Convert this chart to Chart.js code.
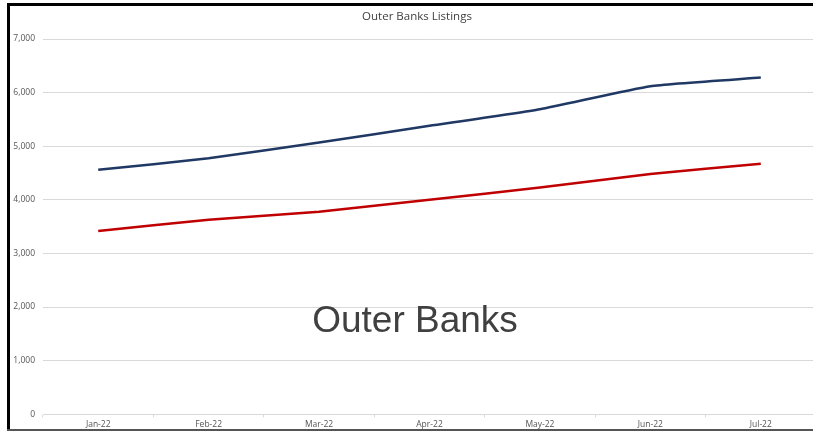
<!DOCTYPE html>
<html>
<head>
<meta charset="utf-8">
<script src="https://cdn.jsdelivr.net/npm/chart.js@4"></script>
<style>
  html, body { margin: 0; padding: 0; background: #fff; overflow: hidden; }
  #wrap { position: relative; width: 817px; height: 433px; }
  #chart { position: absolute; left: 0; top: 0; }
  .title { position: absolute; left: 317px; width: 200px; top: 8px; text-align: center;
           font: 11.5px "Open Sans", sans-serif; color: #404040; white-space: nowrap; }
  .big { position: absolute; left: 265px; width: 300px; top: 302px; text-align: center;
         font: 37px/36px "Liberation Sans", Arial, sans-serif; color: #404040; white-space: nowrap; }
  .bTop { position: absolute; left: 7px; top: 3px; width: 810px; height: 3px; background: #000; }
  .bLeft { position: absolute; left: 7px; top: 3px; width: 3px; height: 428px; background: #000; }
  .bBot { position: absolute; left: 7px; top: 429px; width: 810px; height: 2px; background: #555; }
</style>
</head>
<body>
<div id="wrap">
  <canvas id="chart" width="817" height="433"></canvas>
  <div class="title">Outer Banks Listings</div>
  <div class="big">Outer Banks</div>
  <div class="bTop"></div>
  <div class="bLeft"></div>
  <div class="bBot"></div>
</div>
<script>
const months = ['Jan-22', 'Feb-22', 'Mar-22', 'Apr-22', 'May-22', 'Jun-22', 'Jul-22'];
const blueSeries = [4560, 4775, 5070, 5380, 5690, 6120, 6280];
const redSeries = [3420, 3630, 3780, 4000, 4230, 4480, 4675];

const ctx = document.getElementById('chart').getContext('2d');
new Chart(ctx, {
  type: 'line',
  data: {
    labels: months,
    datasets: [{
      label: 'Listings A',
      data: blueSeries,
      borderColor: '#203864',
      borderWidth: 2.5,
      pointRadius: 0,
      tension: 0.15
    }, {
      label: 'Listings B',
      data: redSeries,
      borderColor: '#c00000',
      borderWidth: 2.5,
      pointRadius: 0,
      tension: 0.15
    }]
  },
  options: {
    responsive: false,
    animation: false,
    layout: { padding: { top: 39, right: 1, bottom: 0, left: 0 } },
    plugins: {
      legend: { display: false },
      title: { display: false },
      tooltip: { enabled: false }
    },
    scales: {
      x: {
        offset: true,
        grid: { offset: true, drawOnChartArea: false, color: '#d9d9d9', tickLength: 3 },
        border: { color: '#d9d9d9' },
        ticks: { font: { family: 'Open Sans', size: 8.5 }, color: '#555555', padding: 2, maxRotation: 0 },
        afterFit: s => { s.height = 18.7; }
      },
      y: {
        min: 0,
        max: 7000,
        ticks: { stepSize: 1000, font: { family: 'Open Sans', size: 8.5 }, color: '#555555', padding: 8 },
        grid: { color: '#d9d9d9', drawTicks: false },
        border: { display: false },
        afterFit: s => { s.width = 43; }
      }
    }
  }
});
</script>
</body>
</html>
